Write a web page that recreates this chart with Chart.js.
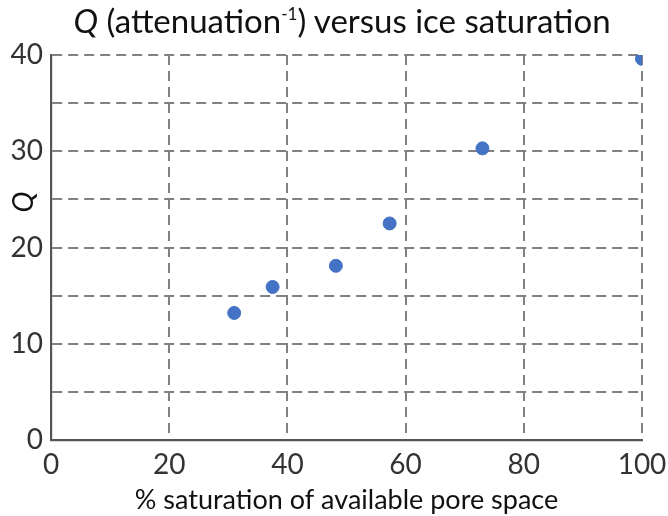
<!DOCTYPE html>
<html>
<head>
<meta charset="utf-8">
<script src="https://cdn.jsdelivr.net/npm/chart.js@4.4.1/dist/chart.umd.min.js"></script>
<style>
    html, body { margin: 0; padding: 0; background: #ffffff; }
    #wrap { position: relative; width: 668px; height: 516px; }
    #title {
        position: absolute; left: 8px; top: 0px; width: 668px; text-align: center;
        font-family: Lato, "Open Sans", sans-serif; font-size: 33px; color: #111;
        white-space: nowrap;
    }
    #title sup { font-size: 17px; position: relative; top: -1px; }
    #yTitle {
        position: absolute; left: 10px; top: 186px; width: 24px; height: 32px;
        text-align: center; line-height: 32px;
        font-family: Lato, "Open Sans", sans-serif; font-size: 28px; font-style: italic; color: #111;
        transform: rotate(-90deg);
    }
</style>
</head>
<body>
<div id="wrap">
    <canvas id="qChart" width="668" height="516"></canvas>
    <div id="title"><i>Q</i> (attenuation<sup>-1</sup>) versus ice saturation</div>
    <div id="yTitle">Q</div>
</div>
<script>
// Data
const saturation = [31, 37.5, 48.2, 57.3, 73, 100];
const qValues = [13.2, 15.9, 18.1, 22.5, 30.3, 39.6];
const xTicks = [0, 20, 40, 60, 80, 100];
const yTicks = [0, 10, 20, 30, 40];

const FONT = 'Lato, "Open Sans", sans-serif';
const TEXT_COLOR = '#333333';
const GRID_COLOR = '#808080';
const AXIS_COLOR = '#555555';

/**
 * Builds the scatter chart of Q versus ice saturation
 */
function initQChart() {
    const ctx = document.getElementById('qChart').getContext('2d');
    return new Chart(ctx, {
        type: 'scatter',
        data: {
            datasets: [{
                label: 'Q',
                data: saturation.map((x, i) => ({ x: x, y: qValues[i] })),
                backgroundColor: '#4472c4',
                borderColor: '#4472c4',
                pointRadius: 6.5,
                pointHoverRadius: 6.5
            }]
        },
        options: {
            responsive: false,
            animation: false,
            layout: {
                padding: { top: 55, right: 0, left: 0, bottom: 0 }
            },
            scales: {
                x: {
                    type: 'linear',
                    min: xTicks[0],
                    max: xTicks[xTicks.length - 1],
                    afterBuildTicks: (axis) => { axis.ticks = xTicks.map(v => ({ value: v })); },
                    afterFit: (axis) => {
                        axis.height = 76;
                        axis.paddingRight = 26;  // let "100" run to the edge
                    },
                    ticks: {
                        color: TEXT_COLOR,
                        font: { family: FONT, size: 28 },
                        padding: 8
                    },
                    grid: {
                        // no grid line on top of the y axis
                        color: (c) => c.tick && c.tick.value === 0 ? 'rgba(0,0,0,0)' : GRID_COLOR,
                        lineWidth: 2,
                        drawTicks: false
                    },
                    border: {
                        display: true,
                        color: AXIS_COLOR,
                        width: 2.2,
                        dash: [10, 6]  // dash of the grid lines in v4
                    },
                    title: {
                        display: true,
                        text: '% saturation of available pore space',
                        color: '#111111',
                        font: { family: FONT, size: 27 },
                        padding: { top: 2, bottom: 0 }
                    }
                },
                y: {
                    min: yTicks[0],
                    max: yTicks[yTicks.length - 1],
                    afterFit: (axis) => { axis.width = 51; },
                    ticks: {
                        stepSize: 5,
                        color: TEXT_COLOR,
                        font: { family: FONT, size: 28 },
                        padding: 8,
                        callback: (value) => yTicks.includes(value) ? value : ''
                    },
                    grid: {
                        color: (c) => c.tick && c.tick.value === 0 ? 'rgba(0,0,0,0)' : GRID_COLOR,
                        lineWidth: 2,
                        drawTicks: false
                    },
                    border: {
                        display: true,
                        color: AXIS_COLOR,
                        width: 2.2,
                        dash: [10, 6]
                    },
                    title: { display: false }
                }
            },
            plugins: {
                legend: { display: false },
                title: { display: false },
                tooltip: { enabled: false }
            }
        }
    });
}

const chart = initQChart();
</script>
</body>
</html>
